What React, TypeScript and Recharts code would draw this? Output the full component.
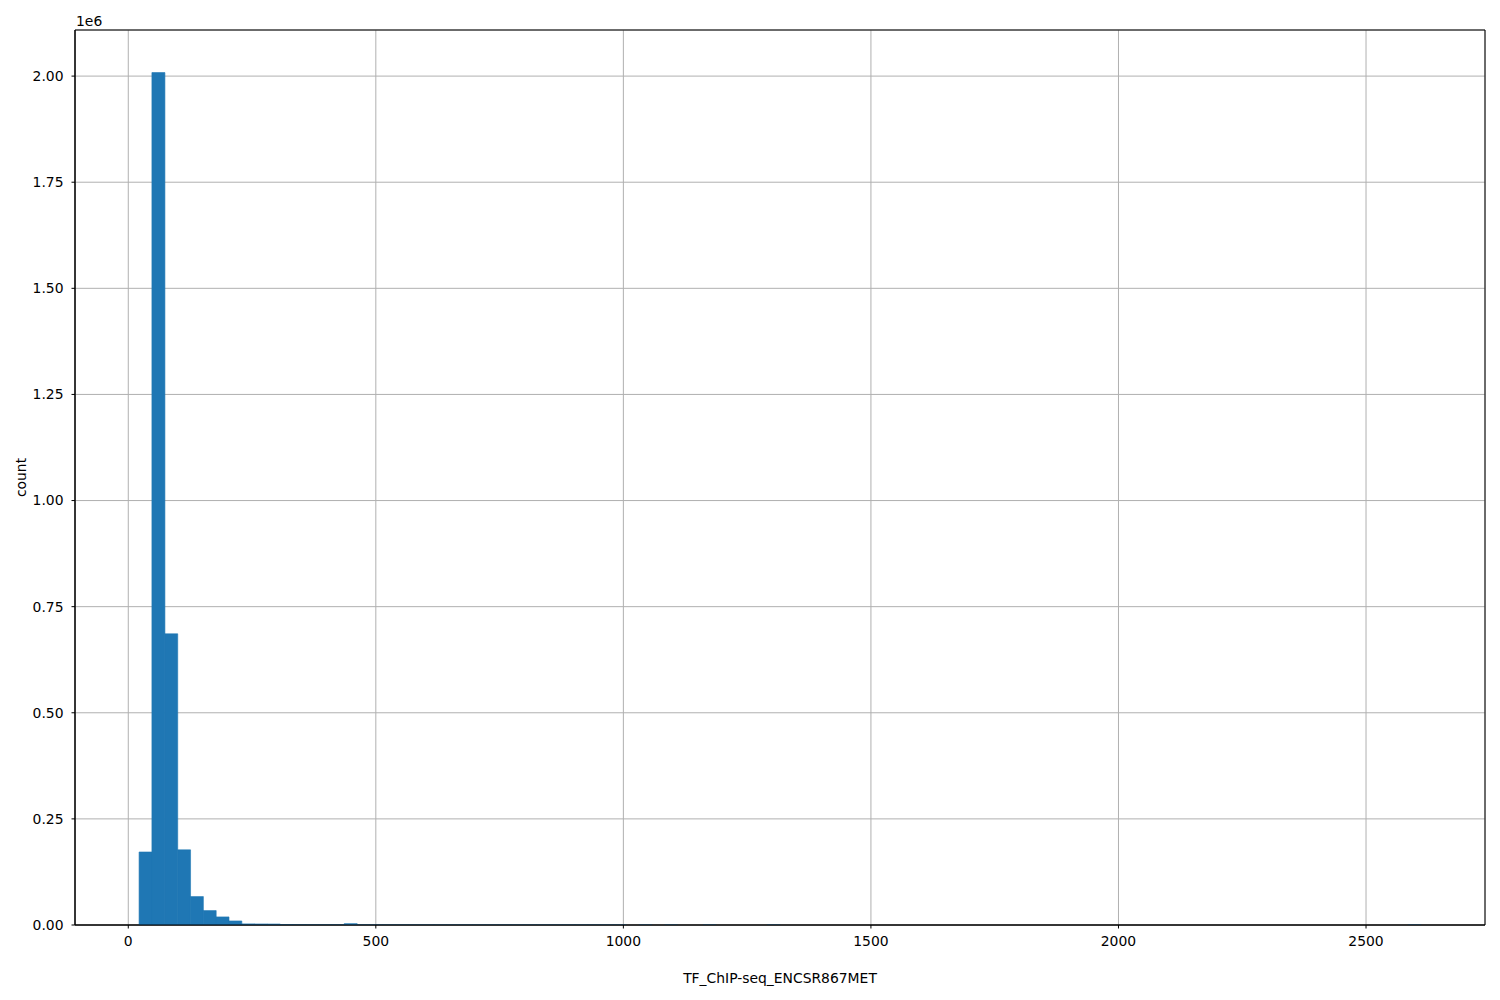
import React from 'react';
import { BarChart, Bar, XAxis, YAxis, CartesianGrid, Label, ReferenceArea } from 'recharts';

// Histogram structure (100 equal bins between data min and max)
const BIN_MIN = 21.85;
const BIN_MAX = 2611.0;
const BIN_COUNT = 100;

// Counts per bin
const counts: number[] = [
  172000, 2008300, 686000, 177000, 67000, 34000, 19000, 9500, 2600, 2500,
  2300, 700, 400, 250, 200, 300, 3200, 150, 80, 60,
  40, 30, 20, 15, 10, 8, 6, 5, 4, 3,
  3, 2, 2, 2, 1, 1, 1, 1, 0, 1,
  0, 1, 0, 0, 1, 0, 0, 0, 0, 1,
  0, 0, 0, 0, 0, 0, 0, 0, 0, 0,
  0, 0, 0, 0, 0, 0, 0, 0, 0, 0,
  0, 0, 0, 0, 0, 0, 0, 0, 0, 0,
  0, 0, 0, 0, 0, 0, 0, 0, 0, 0,
  0, 0, 0, 0, 0, 0, 0, 0, 0, 1,
];

const xTicks = [0, 500, 1000, 1500, 2000, 2500];
const yTicks = [0, 250000, 500000, 750000, 1000000, 1250000, 1500000, 1750000, 2000000];
const xDomain: [number, number] = [-107.6, 2740.3];
const yDomain: [number, number] = [0, 2108600];

const xLabel = 'TF_ChIP-seq_ENCSR867MET';
const yLabel = 'count';
const yOffsetText = '1e6';

const binWidth = (BIN_MAX - BIN_MIN) / BIN_COUNT;
const data = counts.map((c, i) => ({ center: BIN_MIN + binWidth * (i + 0.5), count: c }));

const FONT = 'DejaVu Sans';
const FS = 13.9;

export default function App() {
  return (
    <div style={{ position: 'absolute', left: 0, top: 0, width: 1500, height: 1000, background: '#fff' }}>
      <BarChart
        width={1500}
        height={1000}
        data={data}
        margin={{ top: 30, right: 15, bottom: 0, left: 0 }}
        barCategoryGap={0}
        barGap={0}
      >
        <CartesianGrid stroke="#b0b0b0" strokeWidth={1} />
        <XAxis
          dataKey="center"
          type="number"
          domain={xDomain}
          ticks={xTicks}
          allowDataOverflow
          height={75}
          tickSize={3.5}
          tickMargin={8}
          axisLine={{ stroke: '#000', strokeWidth: 1 }}
          tickLine={{ stroke: '#000', strokeWidth: 1 }}
          tick={{ fill: '#000', fontSize: FS, fontFamily: FONT }}
          interval={0}
        >
          <Label
            content={(p: any) => {
              const vb = p.viewBox || { x: 75, y: 925, width: 1410, height: 75 };
              return (
                <text x={vb.x + vb.width / 2} y={983} textAnchor="middle" fill="#000" fontSize={FS} fontFamily={FONT}>
                  {xLabel}
                </text>
              );
            }}
          />
        </XAxis>
        <YAxis
          type="number"
          domain={yDomain}
          ticks={yTicks}
          allowDataOverflow
          width={75}
          tickSize={3.5}
          tickMargin={8}
          axisLine={{ stroke: '#000', strokeWidth: 1 }}
          tickLine={{ stroke: '#000', strokeWidth: 1 }}
          tick={{ fill: '#000', fontSize: FS, fontFamily: FONT }}
          tickFormatter={(v: number) => (v / 1e6).toFixed(2)}
          interval={0}
        >
          <Label
            content={(p: any) => {
              const vb = p.viewBox || { x: 0, y: 30, width: 75, height: 895 };
              const cy = vb.y + vb.height / 2;
              return (
                <g>
                  <text
                    x={26}
                    y={cy}
                    transform={`rotate(-90, 26, ${cy})`}
                    textAnchor="middle"
                    fill="#000"
                    fontSize={FS}
                    fontFamily={FONT}
                  >
                    {yLabel}
                  </text>
                  <text x={vb.x + vb.width + 1} y={vb.y - 4} textAnchor="start" fill="#000" fontSize={FS} fontFamily={FONT}>
                    {yOffsetText}
                  </text>
                </g>
              );
            }}
          />
        </YAxis>
        <Bar dataKey="count" fill="#1f77b4" stroke="#1f77b4" strokeWidth={0.6} isAnimationActive={false} />
        <ReferenceArea
          x1={xDomain[0]}
          x2={xDomain[1]}
          y1={yDomain[0]}
          y2={yDomain[1]}
          fill="none"
          fillOpacity={0}
          stroke="#000"
          strokeWidth={1}
          ifOverflow="visible"
        />
      </BarChart>
    </div>
  );
}
